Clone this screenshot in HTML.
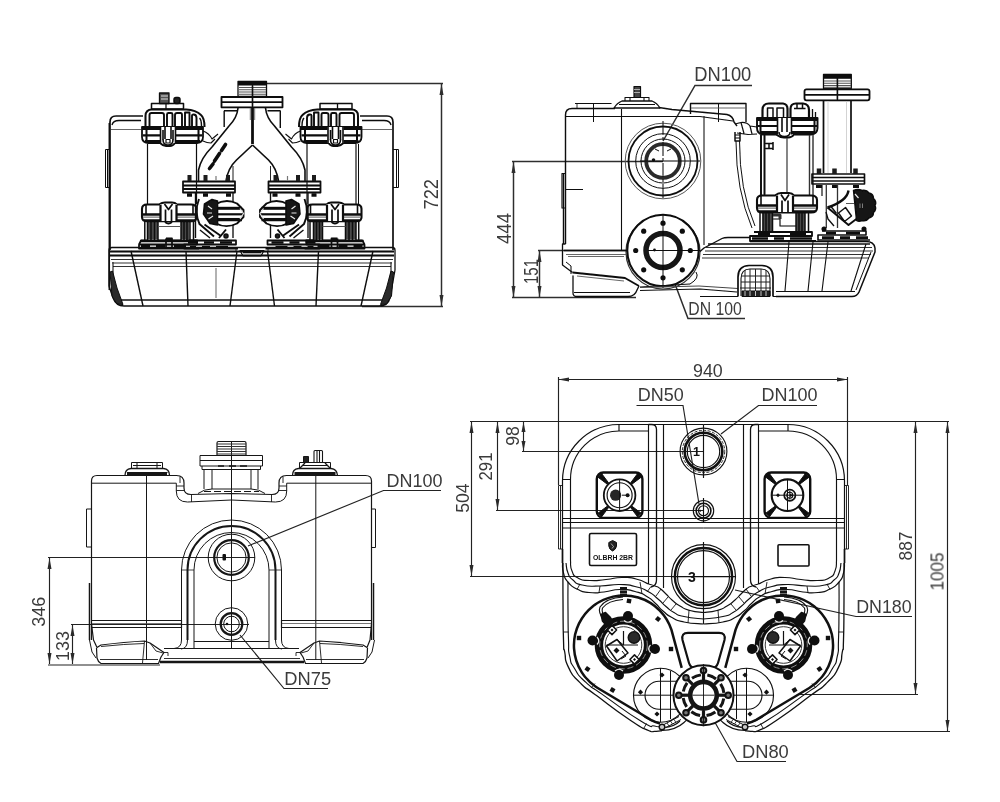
<!DOCTYPE html>
<html><head><meta charset="utf-8"><title>Dimension drawing</title>
<style>
html,body{margin:0;padding:0;background:#fff;}
body{width:1000px;height:802px;overflow:hidden;font-family:"Liberation Sans",sans-serif;}
svg{display:block}
.l{stroke:#1c1c1c;stroke-width:1;fill:none}
.t{stroke:#1c1c1c;stroke-width:1;fill:none}
text{font-family:"Liberation Sans",sans-serif;fill:#3a3a3a}
</style></head><body>
<svg width="1000" height="802" viewBox="0 0 1000 802">
<defs>
<filter id="soft" x="-5%" y="-5%" width="110%" height="110%"><feGaussianBlur stdDeviation="0.55"/></filter>
<filter id="tsoft" x="-5%" y="-5%" width="110%" height="110%"><feGaussianBlur stdDeviation="0.3"/></filter>
</defs>
<rect x="0" y="0" width="1000" height="802" fill="#ffffff"/>
<!-- dims -->
<g id="dimsAB" stroke="#2e2e2e" stroke-width="1.500" fill="none" filter="url(#soft)">
<!-- View A : 722 -->
<path d="M266 83.5H443"/>
<path d="M362 306.5H443"/>
<path d="M441.5 84V306"/>
<path d="M441.5 84l-2 11h4zM441.5 306l-2-11h4z" fill="#2e2e2e" stroke="none"/>
<!-- View B : 444 / 151 -->
<path d="M512 161.5H663"/>
<path d="M512 297.5H636"/>
<path d="M513.5 162V297"/>
<path d="M513.5 162l-2 11h4zM513.5 297l-2-11h4z" fill="#2e2e2e" stroke="none"/>
<path d="M538 250.5H663"/>
<path d="M539.5 251V297"/>
<path d="M539.5 251l-2 11h4zM539.5 297l-2-11h4z" fill="#2e2e2e" stroke="none"/>
<path d="M752 85.5H695L663 141"/>
<path d="M745 318.5H688L669 268"/>
</g>
<g id="dims" stroke="#222" stroke-width="1.150" fill="none">
<!-- View C : 346 / 133 -->
<path d="M48 557.5H255"/>
<path d="M48 665H160"/>
<path d="M49.5 558V664"/>
<path d="M49.5 558l-2 11h4zM49.5 664l-2-11h4z" fill="#2a2a2a" stroke="none"/>
<path d="M71 624.5H249"/>
<path d="M72.5 625V664"/>
<path d="M72.5 625l-2 11h4zM72.5 664l-2-11h4z" fill="#2a2a2a" stroke="none"/>
<!-- View D : 940 -->
<path d="M558 379.5H848"/>
<path d="M558.5 377V485"/>
<path d="M847.5 377V485"/>
<path d="M558 379.5l11-2v4zM848 379.5l-11-2v4z" fill="#2a2a2a" stroke="none"/>
<!-- top ref line -->
<path d="M470 421.5H949"/>
<!-- 504 -->
<path d="M471.5 422V576"/>
<path d="M471.5 422l-2 11h4zM471.5 576l-2-11h4z" fill="#2a2a2a" stroke="none"/>
<path d="M470 576.5H704"/>
<!-- 291 -->
<path d="M497.5 422V510"/>
<path d="M497.5 422l-2 11h4zM497.5 510l-2-11h4z" fill="#2a2a2a" stroke="none"/>
<path d="M496 510.5H704"/>
<!-- 98 -->
<path d="M523.5 422V451"/>
<path d="M523.5 422l-2 10h4zM523.5 451l-2-10h4z" fill="#2a2a2a" stroke="none"/>
<path d="M522 451.5H704"/>
<!-- 887 -->
<path d="M915.5 422V694"/>
<path d="M915.5 422l-2 11h4zM915.5 694l-2-11h4z" fill="#2a2a2a" stroke="none"/>
<path d="M799 694.5H918"/>
<!-- 1005 -->
<path d="M947.5 422V731"/>
<path d="M947.5 422l-2 11h4zM947.5 731l-2-11h4z" fill="#2a2a2a" stroke="none"/>
<path d="M752 731.5H950"/>
<!-- leaders -->
<path d="M441 490.5H383.500L248 546"/>
<path d="M328 688.5H284L240 635"/>
<path d="M636.500 405.5H683L699 504"/>
<path d="M817 405.5H758.500L721 434"/>
<path d="M912 616.5H856L735 590"/>
<path d="M786 761.5H737L708 710"/>
</g>
<g id="labels" font-size="17.8" filter="url(#tsoft)">
<text x="694.3" y="81" font-size="19.5" textLength="57" lengthAdjust="spacingAndGlyphs">DN100</text>
<text x="688.3" y="315" font-size="19" textLength="53.5" lengthAdjust="spacingAndGlyphs">DN 100</text>
<text x="386.5" y="487.2" textLength="56" lengthAdjust="spacingAndGlyphs">DN100</text>
<text x="284.3" y="684.5" textLength="46.8" lengthAdjust="spacingAndGlyphs">DN75</text>
<text x="637.7" y="400.5" textLength="46" lengthAdjust="spacingAndGlyphs">DN50</text>
<text x="761.5" y="400.5" textLength="56" lengthAdjust="spacingAndGlyphs">DN100</text>
<text x="856.2" y="613" textLength="55.5" lengthAdjust="spacingAndGlyphs">DN180</text>
<text x="742" y="758" textLength="46.8" lengthAdjust="spacingAndGlyphs">DN80</text>
<text x="693" y="376.5" textLength="29.800" lengthAdjust="spacingAndGlyphs">940</text>
<text transform="translate(438,209.5) rotate(-90)" font-size="21" textLength="30.5" lengthAdjust="spacingAndGlyphs">722</text>
<text transform="translate(511,244) rotate(-90)" font-size="20" textLength="31" lengthAdjust="spacingAndGlyphs">444</text>
<text transform="translate(538,284) rotate(-90)" font-size="20" textLength="25" lengthAdjust="spacingAndGlyphs">151</text>
<text transform="translate(45.3,626.8) rotate(-90)" font-size="18.6" textLength="30" lengthAdjust="spacingAndGlyphs">346</text>
<text transform="translate(69.3,661) rotate(-90)" font-size="18.6" textLength="30" lengthAdjust="spacingAndGlyphs">133</text>
<text transform="translate(469.3,512.8) rotate(-90)" font-size="18.6" textLength="29.5" lengthAdjust="spacingAndGlyphs">504</text>
<text transform="translate(492,480.5) rotate(-90)" font-size="18.6" textLength="28" lengthAdjust="spacingAndGlyphs">291</text>
<text transform="translate(519.3,445.7) rotate(-90)" font-size="18.6" textLength="19.5" lengthAdjust="spacingAndGlyphs">98</text>
<text transform="translate(911.5,560.5) rotate(-90)" font-size="18.6" textLength="29" lengthAdjust="spacingAndGlyphs">887</text>
<text transform="translate(943.5,590.5) rotate(-90)" font-size="18.6" textLength="38" lengthAdjust="spacingAndGlyphs">1005</text>
</g>

<!-- viewA -->
<g id="viewA" filter="url(#soft)" stroke="#0d0d0d" stroke-width="1.500" fill="none" stroke-linejoin="round">
<defs>
<g id="motorTopA">
  <!-- cap top plate -->
  <rect x="151.500" y="103.500" width="32" height="5.500" stroke-width="1.500"/>
  <path d="M166 103.500V109" stroke-width="1.300"/>
  <!-- upper body -->
  <path d="M145.500 127V116Q145.500 109.500 152 109.500H186Q196 110 201 115Q204.500 118 204.500 127" stroke-width="2"/>
  <path d="M149.500 126V115Q149.500 113 151.500 113H162Q164 113 164 115V126M167 126V114.500Q167 113 168.500 113H171Q172.500 113 172.500 114.500V126M175 126V115Q175 113 177 113H180.500Q182 113 182 115V126M185 126V112.500H189.500V126M192 126V115.500Q192 114.500 193.500 114.500Q196.500 114.500 196.500 118V126" stroke-width="1.900"/>
  <path d="M199.500 118Q201.500 120 201.500 126" stroke-width="1.400"/>
  <!-- dark band -->
  <path d="M142 127V137Q142 142.500 148 143H160Q163 146 166 146H170Q173 146 175 143H197Q203 142.500 203 137V127Z" stroke-width="1.800" fill="#fff"/>
  <path d="M142 128.300H203" stroke-width="3.400"/>
  <path d="M143 135.400H202" stroke-width="2.100"/>
  <path d="M145 141.500H200" stroke-width="2.800"/>
  <path d="M146.500 127V142M198.500 127V142" stroke-width="2"/>
  <rect x="160" y="127" width="16" height="16" fill="#fff" stroke="none"/>
  <path d="M160.500 127V143M175.500 127V143M165 127V139M171 127V139M163 130V140M173 130V140" stroke-width="1.600"/>
  <path d="M163 139.500Q163 145 168 145Q173 145 173 139.500" stroke-width="1.600"/>
  <rect x="166" y="139.500" width="4" height="3.500" fill="#fff" stroke-width="1.200"/>
</g>
<g id="motorLowA">
  <!-- legs -->
  <rect x="147.500" y="221" width="10.500" height="18" fill="#4a4a4a" stroke="none"/>
  <rect x="181" y="221" width="8.500" height="18" fill="#4a4a4a" stroke="none"/>
  <path d="M144.800 221V240.500M147.500 221V240.500M151 221V240.500M154.500 221V240.500M158 221V240.500" stroke-width="1.500"/>
  <path d="M181 221V240.500M184 221V240.500M187 221V240.500M190 221V240.500M193.500 221V240.500" stroke-width="1.500"/>
  <path d="M158 226.500H181" stroke-width="1" stroke="#555"/>
  <!-- lower band -->
  <path d="M142 212V209Q142 204.500 147 204.500H159Q162 202.500 165 202.500H172Q175 202.500 177 204.500H191Q196.500 204.500 196.500 209V217Q196.500 221.300 192 221.300H147Q142 221.300 142 217Z" stroke-width="2.100" fill="#fff"/>
  <path d="M142.500 214.600H196" stroke-width="2.500"/>
  <path d="M143 217.200H196" stroke-width="1.300" stroke="#777"/>
  <path d="M144 220.300H195" stroke-width="2"/>
  <path d="M146 205V214M193 205V214" stroke-width="1.600"/>
  <rect x="160" y="204" width="17" height="17" fill="#fff" stroke="none"/>
  <path d="M160.500 204.500V221M176.500 204.500V221" stroke-width="2.200"/>
  <path d="M164.500 204L168.500 209.500L172.500 204M165.500 209.500V221M171.500 209.500V221" stroke-width="1.700"/>
  <path d="M165 222Q168.500 225 172 222" stroke-width="1.700"/>
  <!-- foot plates -->
  <path transform="translate(0,2.500)" d="M141 238H197V242H139V246H199M141 238L139 242M166 236H172V246M166 236V246" stroke-width="1.76"/>
  <path transform="translate(0,2.500)" d="M141 244H150M156 244H165M174 244H186" stroke-width="2.97"/>
  <path d="M140 241H198" stroke-width="2.600"/>
</g>
</defs>
<!-- tank outline -->
<path d="M110 250V122Q110 116 116 116H143" stroke-width="1.700"/>
<path d="M112 125Q113 120.500 119 120.500H141" stroke-width="1.300"/>
<path d="M111 129.500H141" stroke="#666" stroke-width="1"/>
<path d="M393 250V122Q393 116 387 116H360" stroke-width="1.700"/>
<path d="M391 125Q390 120.500 384 120.500H362" stroke-width="1.300"/>
<path d="M392 129.500H362" stroke="#666" stroke-width="1"/>
<!-- side lugs -->
<path d="M110 149.500H105.500V187.500H110M107.500 150V187" stroke-width="1"/>
<path d="M393 149.500H398.500V187.500H393M396.500 150V187" stroke-width="1"/>
<!-- motor cylinders -->
<path d="M147.500 144V204M196.500 144V204" stroke-width="1.2"/>
<path d="M356 144V204M307 144V204" stroke-width="1.2"/>
<path d="M358.500 144V240" stroke-width="1"/>
<!-- motors -->
<use href="#motorTopA"/>
<rect x="159.500" y="93" width="9.500" height="10.500" fill="#555" stroke-width="1.3"/>
<path d="M161 96H168M161 99H168" stroke="#fff" stroke-width=".8"/>
<rect x="174" y="97.500" width="6" height="6" rx="2" fill="#222"/>
<use href="#motorTopA" transform="translate(503.500,0) scale(-1,1)"/>
<use href="#motorLowA"/>
<use href="#motorLowA" transform="translate(503.500,0) scale(-1,1)"/>
<!-- connecting hoses cap->pipe -->
<path d="M203 131Q209 133 212 139L218 134M203 141Q207 143 211 143L215 139" stroke-width="1.1"/>
<path d="M300.500 131Q294.500 133 291.500 139L285.500 134M300.500 141Q296.500 143 292.500 143L288.500 139" stroke-width="1.1"/>
<!-- central pipe thread -->
<rect x="238" y="81.500" width="28.500" height="15" stroke-width="1.300"/><path d="M238 83.500H266.500" stroke-width="4"/>
<path d="M239 87.500H266M239 89.800H266M239 92H266M239 94.300H266" stroke="#555" stroke-width="1.100"/>
<path d="M252.500 82V97" stroke-width="1.600"/>
<!-- top flange -->
<path d="M221.500 97H282.500V107.300H221.500ZM221.500 102.200H282.500" stroke-width="1.800"/><path d="M252.500 97V107" stroke-width="1.600"/>
<!-- Y pipe -->
<path d="M224 110.700H237M224.200 110.700V127M267.500 110.700H280.500M280.300 110.700V128" stroke-width="1.400"/>
<path d="M238 108Q237 118 229 126L212 147Q201 158 198.500 170V181" stroke-width="1.600"/>
<path d="M265.500 108Q266.500 118 274.500 126L291.500 147Q302.500 158 305 170V181" stroke-width="1.600"/>
<path d="M252.500 145L236.500 160Q228 168 226 181" stroke-width="1.700"/>
<path d="M252.500 145L268.500 160Q276.500 168 278.500 181" stroke-width="1.700"/>
<path d="M252.500 108V144" stroke-width="2.800"/><path d="M250.300 108V120M254.700 108V120" stroke-width=".8" stroke="#555"/>
<path d="M233 166V181M270.500 166V181" stroke-width=".9"/>
<path d="M225.500 144.500L221.500 150.500M219.500 153.500L214.500 161M213 164L209.500 168.500" stroke="#0a0a0a" stroke-width="3.600" stroke-linecap="round"/>
<!-- lower flanges -->
<g id="flA">
<path d="M183 181.500H235V192.500H183ZM183 185.500H235M183 189H235" stroke-width="1.76"/>
<path d="M189.500 175V181M205.500 175V181M228 175V181" stroke-width="4" stroke="#1a1a1a"/><path d="M216 176V181" stroke="#777" stroke-width="1.200"/>
<path d="M187 195H192M203 195H208M226 195H231" stroke-width="3.38"/>
<path d="M195.500 193V238M233 193V238" stroke-width="1.35"/>
<!-- ball valve -->
<path d="M215 204.500Q226 198 237 203.500L243.500 210V217L237 223.500Q226 229 215 223Z" stroke-width="1.900" fill="#fff"/>
<path d="M217 208.300H242" stroke-width="3"/>
<path d="M216 214.300H243.500" stroke-width="2.200"/>
<path d="M217 219.600H242" stroke-width="3.300"/>
<path d="M240 208.500L243.500 213.500L240 219" stroke-width="1.200" stroke="#ddd"/>
<path d="M204.500 204L212 199.500L217.500 201V225L210 223.500L203.500 214Z" fill="#171717" stroke-width="1.600"/>
<path d="M208 206L212 209M207 213H212M208.500 219L213 216" stroke="#e8e8e8" stroke-width="1.200"/>
<path d="M199 199Q194 212 199.500 224L214 236.500M204.500 224.500L221 236M226 229.500L219 238" stroke-width="1.900"/>
<path d="M200 230L210 238" stroke-width="1.500"/>
<path transform="translate(0,2.500)" d="M186 238H236V242H184V246H238" stroke-width="1.76"/>
<path transform="translate(0,2.500)" d="M188 240H198M204 240H214M220 240H232M190 244.500H196M202 244.500H210M216 244.500H228" stroke-width="2.70"/>
<circle cx="226" cy="236" r="2" fill="#222"/>
</g>
<use href="#flA" transform="translate(503.500,0) scale(-1,1)"/>
<!-- base -->
<path d="M109 262V250Q109 247.500 112 247.500H392Q395 247.500 395 250V270L390 298Q388 306 379 306H124Q116 306 113 298L109 286Z" stroke-width="1.3"/>
<path d="M110 251.500H394M110 255.500H394" stroke-width="1.800"/>
<path d="M111 259.500H393M112 263H392M113 266.500H391" stroke="#333" stroke-width="1.100"/>
<path d="M121 300H383" stroke-width="1.300"/>
<path d="M113 262V284L118 300" stroke-width="1"/>
<path d="M391 262V272L386 300" stroke-width="1"/>
<path d="M131 251L143 306M186 251L188 306M237 251L230 306M267.500 251L274.500 306M318.500 251L316 306M373 251L361 306" stroke-width="1.400"/>
<path d="M110 272L112.500 271L117 288L123 304.500L117 304L112 296Z" fill="#2a2a2a" stroke-width="1"/>
<path d="M393.500 272L391 271L386.500 288L380.500 304.500L386.500 304L391.500 296Z" fill="#2a2a2a" stroke-width="1"/>
<path d="M109.300 123V290" stroke-width="1.500"/>
<path d="M216 268V298" stroke-width=".9" stroke="#555"/>
<path d="M240 250.500H264L261 256H243Z" stroke-width="1.2"/>
<path d="M243 252.500H261" stroke-width="1.600"/>
<path d="M236 247.500V251M268 247.500V251" stroke-width="1"/>
</g>

<!-- viewB -->
<g id="viewB" filter="url(#soft)" stroke="#0d0d0d" stroke-width="1.450" fill="none" stroke-linejoin="round">
<!-- tank body -->
<path d="M565.500 244V115Q565.500 108.500 572 108.500H611" stroke-width="1.4"/>
<path d="M575 103.500H611.500" stroke-width="1.2"/>
<path d="M577 103.500V108" stroke-width=".8"/>
<path d="M566 116.500H700L733 121" stroke-width="1.1"/>
<path d="M611 108.500H615M659 107.500L672 109.500L727 114.500Q733 116 734 122L737 126" stroke-width="1.4"/>
<path d="M593.500 104V122" stroke-width="1"/>
<path d="M621.500 109V250" stroke-width="1.1"/>
<path d="M704 116V245" stroke-width="1"/>

<!-- left lug -->
<path d="M565.500 173.500H562V208H565.500" stroke-width="1.2"/>
<path d="M563.500 174V244" stroke-width="1.400"/>
<path d="M566 189.500H583" stroke-width="1"/>
<!-- top cap -->
<path d="M614 108Q617 103 622 101H652Q657 103 660 108Z" stroke-width="1.3"/>
<path d="M619 104.500H655M625 101V97.500H649V101M630 97.500V101M644 97.500V101" stroke-width="1.1"/>
<rect x="634" y="86.500" width="6.500" height="11" fill="#444" stroke-width="1.2"/>
<path d="M634 89.500H640M634 92.500H640" stroke="#ddd" stroke-width=".7"/>
<!-- hump box -->
<path d="M690.500 114V103.500H746V122" stroke-width="1.4"/>
<path d="M718.500 103.500V122" stroke-width="1"/>
<path d="M691 108H746" stroke-width=".9" stroke="#555"/>
<!-- big upper port -->
<circle cx="663" cy="161" r="37.8" stroke="#555" stroke-width="1"/>
<circle cx="663" cy="161" r="34.5" stroke-width="1.8"/>
<circle cx="663" cy="161" r="27.3" stroke-width="1"/>
<circle cx="663" cy="161" r="22" stroke-width="1"/>
<circle cx="663" cy="161" r="16.800" stroke="#2a2a2a" stroke-width="3.800"/>
<path d="M663 121V199" stroke-width="1" stroke-dasharray="14 2 3 2"/>
<path d="M640 161H700" stroke-width="1"/>
<circle cx="653.500" cy="160" r="1.800" fill="#111" stroke="none"/>
<path d="M655 149L659 151M671 149L667 151" stroke-width="1"/>
<!-- lower flange -->
<circle cx="663" cy="252" r="37" stroke="#333" stroke-width="1.2"/>
<circle cx="663" cy="250.500" r="35.700" stroke-width="2" fill="#fff"/>
<circle cx="663" cy="250.500" r="17" stroke="#151515" stroke-width="5.500"/>
<g fill="#111" stroke="none">
<circle cx="663" cy="223.200" r="2.600"/><circle cx="663" cy="277.800" r="2.600"/>
<circle cx="635.700" cy="250.500" r="2.600"/><circle cx="690.300" cy="250.500" r="2.600"/>
<circle cx="643.700" cy="231.200" r="2.600"/><circle cx="682.300" cy="231.200" r="2.600"/>
<circle cx="643.700" cy="269.800" r="2.600"/><circle cx="682.300" cy="269.800" r="2.600"/>
<circle cx="654.500" cy="250" r="1.400"/>
</g>
<path d="M663 214V288M648 250.500H700" stroke-width="1" />
<!-- tank bottom / left lower -->
<path d="M565.500 244H562.500V265L572.500 272.500" stroke-width="1.3"/>
<path d="M564 250.500H627" stroke-width="1.4"/>
<path d="M566 254.500H626M568 256.500H624" stroke="#555" stroke-width=".9"/>
<path d="M566 262L571 266V274" stroke-width="1"/>
<path d="M572.500 272.500L625 278L639 286" stroke-width="1.800"/>
<path d="M573 275.500V293Q573 296.500 577 296.500H628Q635 296.500 637 290L639 286" stroke-width="1.3"/>
<path d="M574 292.500H630" stroke-width="1"/>
<path d="M577 276L624 281" stroke-width=".9" stroke="#555"/>
<!-- cable -->
<path d="M736 141Q736 190 752 228M739.500 141Q739.500 190 755 226" stroke-width="1"/>
<path d="M735 132V141H740V132" stroke-width="1.5"/>
<path d="M735 135H740M735 138H740" stroke-width="1"/>
<!-- hose fitting to motor -->
<path d="M735 124L741 122.500Q747 122 750 126L757 127M737 133L748 134.500L757 134M741 122.500L744 133.500M750 126L752 134" stroke-width="1.2"/>
<!-- motor top cap -->
<path d="M757 118V128Q757 134 763 134.500H776Q780 137.500 784 137.500H788Q792 137.500 794 134.500H811Q817.500 134 817.500 128V118Z" stroke-width="1.900" fill="#fff"/>
<path d="M757 119.500H817.500" stroke-width="3.200"/>
<path d="M758 126H817" stroke-width="2.100"/>
<path d="M760 132.500H815" stroke-width="2.800"/>
<path d="M760.500 118V134M814.500 118V134" stroke-width="2"/>
<rect x="777" y="118" width="15" height="16" fill="#fff" stroke="none"/>
<path d="M777.500 118V134.500M791.500 118V134.500M782 118V132M787 118V132" stroke-width="1.600"/>
<path d="M779 132Q779 136.500 784.500 136.500Q790 136.500 790 132" stroke-width="1.500"/>
<path d="M762.500 118V110Q762.500 103.500 769 103.500H783Q787.500 104 787.500 109V118M790.500 118V109Q790.500 103.500 796 103.500H803Q809 104 809 110V118" stroke-width="2.200"/>
<path d="M767.500 118V108H773V118M777 118V108H783.500V118M794 108.500H805.500M797 104V108M802.500 104V108" stroke-width="1.500"/>
<path d="M812.500 109V118M815.500 112V118" stroke-width="1.300"/>
<!-- motor cylinder -->
<path d="M761 135V195M764.500 135V195" stroke-width="1.95"/>
<path d="M787 138V195" stroke="#444" stroke-width="1.30"/>
<path d="M809.500 135V195M813 135V195" stroke="#333" stroke-width="1.43"/>
<path d="M765 143.500H773M765 148.500H773M769 143.500V148.500M773 142V150" stroke-width="1.56"/>
<!-- motor lower band -->
<rect x="762.500" y="212" width="10" height="19.500" fill="#4a4a4a" stroke="none"/>
<rect x="796" y="212" width="9" height="19.500" fill="#4a4a4a" stroke="none"/>
<path d="M760 212V231.500M763 212V231.500M766 212V231.500M769 212V231.500M772.500 212V231.500" stroke-width="1.500"/>
<path d="M796 212V231.500M799 212V231.500M802 212V231.500M805 212V231.500M808.500 212V231.500" stroke-width="1.500"/>
<path d="M773 219H780V226H796" stroke-width="1.200"/>
<path d="M773 215H780V219" stroke-width="3" stroke="#333"/>
<path d="M757 203V200Q757 195.500 762 195.500H775Q778 193 781 193H789Q792 193 794 195.500H811Q817 195.500 817 200V208Q817 212.500 811 212.500H762Q757 212.500 757 208Z" stroke-width="2.100" fill="#fff"/>
<path d="M757.500 205.500H816.500" stroke-width="2.500"/>
<path d="M758 208.200H816" stroke-width="1.300" stroke="#777"/>
<path d="M759 211.300H815" stroke-width="2"/>
<path d="M761 196V205M813 196V205" stroke-width="1.600"/>
<rect x="776.500" y="195" width="17" height="17" fill="#fff" stroke="none"/>
<path d="M777 195.500V212M793 195.500V212" stroke-width="2.200"/>
<path d="M781 194.500L785 200.500L789 194.500M782 200.500V212M788 200.500V212" stroke-width="1.700"/>
<!-- motor base plates -->
<path d="M754 232H812V236H750V241H816" stroke-width="1.82"/>
<path d="M752 238.500H768M774 238.500H784M790 238.500H812M758 234H770M790 234H806" stroke-width="2.300"/>
<!-- discharge pipe -->
<rect x="823.500" y="74.500" width="27.800" height="14" stroke-width="1.300"/>
<path d="M823.500 76.700H851.300" stroke-width="4.200"/>
<path d="M824 81H851M824 83.300H851M824 85.600H851M824 87.800H851" stroke="#555" stroke-width="1.100"/>
<path d="M837.400 75V100" stroke-width="1.600"/>
<path d="M806.500 89.300H867.500Q869.500 89.300 869.500 91.300V98.300Q869.500 100.300 867.500 100.300H806.500Q804.500 100.300 804.500 98.300V91.300Q804.500 89.300 806.500 89.300ZM805 94.800H869" stroke-width="1.800"/>
<path d="M823.500 101V173M851 101V173" stroke-width="1.700"/>
<path d="M828 101V173M846.500 101V173" stroke="#c8c8c8" stroke-width=".8"/>
<!-- lower pipe flange -->
<path d="M812 174H864.500V184H812ZM812 177.500H864M812 181H864" stroke-width="1.62"/>
<path d="M819 168.500V174M834.500 168.500V174M855.500 168.500V174" stroke-width="4.50" stroke="#1a1a1a"/>
<path d="M816 186.500H822M832 186.500H838M853 186.500H859" stroke-width="3.12"/>
<!-- check valve body -->
<path d="M826.300 185V228M837.500 185V228" stroke="#333" stroke-width="1.300"/>
<path d="M822 185V196" stroke-width="1.200"/>
<path d="M848.500 190.500Q847 201 827.500 207.500" stroke-width="2.400"/>
<path d="M827.500 207.500L848.500 225L857 218.500" stroke-width="1.900"/>
<path d="M826 212L828 219L834 226" stroke-width="1.300"/>
<path d="M831 206.500L836.500 213.500M838.500 213L845.500 207.500L851.500 216L844.500 221.500Z" stroke-width="1.400"/>
<path d="M846 203.500H854" stroke-width="1" stroke="#555"/>
<!-- knob -->
<path d="M853.500 190.500Q858 188.500 862 190.500Q866.500 189.500 869 193Q873.500 194 873.500 198.500Q877 201.500 875 205.500Q877 209.500 873.500 212.500Q873.500 217 869 218Q866.500 221.500 862 220.500Q859 222 856.500 220.500Z" fill="#141414" stroke-width="1.400"/>
<path d="M860 203.500V208M862.500 203.500V208" stroke="#888" stroke-width=".9"/>
<path d="M855 194L858.500 198" stroke="#eee" stroke-width="1.200"/>
<!-- valve base plate -->
<path d="M822 231H866V235H818V240H870" stroke-width="1.62"/>
<path d="M822 237.500H834M840 237.500H850M856 237.500H868M826 233H836M846 233H860" stroke-width="2.75"/>
<circle cx="824" cy="229" r="1.800" fill="#111"/><circle cx="864" cy="229" r="1.800" fill="#111"/>
<!-- base -->
<path d="M700 251.500L704 248L722 238.500Q724 237.500 728 237.500H750" stroke-width="1.400"/>
<path d="M750 241.500H866Q874 241.500 875 248V252L859 292Q857 296.500 852 296.500H776" stroke-width="1.500"/>
<path d="M706 247.500H872M705 251H873M703 254.500H871M702 258H869" stroke-width="1.100" stroke="#333"/>
<path d="M708 244H870" stroke-width="1.500"/>
<path d="M871 252L856 290" stroke-width="1"/>
<path d="M789 242L785 291M813 242L808 291M828 242L822 291M866 244L851 291" stroke-width="1.100"/>
<path d="M776 291.500H855" stroke-width="1"/>
<path d="M696 272Q700 278 690 284L640 287" stroke-width="1"/>
<path d="M640 290.500L700 289L737 292" stroke-width="1.200"/>
<path d="M640 287.500L699 286L738 288.500" stroke-width="1" stroke="#444"/>
<!-- foot -->
<path d="M738 296.500V277Q738 266 749 265.500H762Q773 266 773 277V296.500" stroke-width="1.700"/>
<path d="M741 296V279Q741 269 750 269H761Q770 269 770 279V296" stroke-width="1.100"/>
<path d="M745 270V296M750 269V296M755.500 269V296M761 269V296M766 270V296M741 276H770M741 282H770M740 288H771" stroke-width="1" stroke="#222"/>
<path d="M742 291H770V296.500H742Z" fill="#222" stroke-width="1"/>
<path d="M745 291V296M750 291V296M755.500 291V296M761 291V296M766 291V296" stroke="#eee" stroke-width=".8"/>
<path d="M700 296.500H738M773 296.500H790" stroke-width="1.200"/>
</g>

<!-- viewC -->
<g id="viewC" stroke="#161616" stroke-width="1" fill="none" stroke-linejoin="round">
<!-- tank outline -->
<path d="M91.500 640V481Q91.500 475.500 97 475.500H176.500Q184 475.500 184 483V488Q184 494.500 191 494.500L231.500 493.500L272 494.500Q279 494.500 279 488V483Q279 475.500 286.500 475.500H365.500Q371.500 475.500 371.500 481V640" stroke-width="1.200"/>
<path d="M92 483.200H176.300V491Q176.300 502 187.500 502L231.500 500L275.500 502Q286.700 502 286.700 491V483.200H371" />
<path d="M146.500 476V660M315.800 476V660M231.500 441V649" />
<path d="M176.300 486H184M176.300 490.500H184M191.500 494.500V502M286.700 486H279M286.700 490.500H279M271.500 494.500V502M180 476.500V483M283 476.500V483" stroke-width=".9"/>
<!-- side lugs -->
<path d="M91.500 509H86.500V547H91.500M371.500 509H375.500V547.500H371.500" />
<path d="M89.500 583V640M373.500 583V640" stroke-width="1.500"/>
<!-- left cap -->
<path d="M125 475.500Q125 469 131 468.500H163.500Q169.500 469 169.500 475.500" stroke-width="1.300"/>
<path d="M127 472.500H167.500M131.500 468.500V462.500H162.500V468.500M137 462.500V468.500M157 462.500V468.500M133 465.500H161" />
<path d="M127 474H167" stroke-width="1.800"/>
<!-- right cap -->
<path d="M292.500 475.500Q292.500 469 298.500 468.500H331Q337 469 337.500 475.500" stroke-width="1.300"/>
<path d="M294.500 472.500H335.500M299.500 468.500V462.500H330.500V468.500M303 465.500H328" />
<path d="M294.500 474H335.500" stroke-width="1.800"/>
<path d="M303.500 462.500V456.500H308.500V462.500Z" fill="#222"/><path d="M314 462.500V451.500Q314 450.500 315 450.500H321.500Q322.500 450.500 322.500 451.500V462.500M317 451V462M319.500 451V462" stroke-width="1.100"/>
<path d="M299.500 468.500L305 463M330.500 468.500L325 463" stroke-width="1.400"/>
<!-- centre pipe -->
<path d="M217 455.500V443Q217 441.500 218.500 441.500H244.500Q246 441.500 246 443V455.500" stroke-width="1.200"/>
<path d="M217 444H246M217 446.500H246M217 449H246M217 451.500H246M217 454H246" stroke-width="1" stroke="#333"/>
<path d="M200 455.500H262.500V466H200ZM200 460.500H262.500M202 466V469.500H260.500V466" />
<path d="M204 469.500V489M258 469.500V489M212 469.500V489M251 469.500V489M204 469.500H258" />
<path d="M218 466H224M229 466H236M240 466H247" stroke-width="1.500"/>
<path d="M198 493.500Q204 489 212 489H251Q259 489 265 493.500" />
<path d="M204 491.500H259" stroke-dasharray="7 3" stroke-width="1.200"/>
<!-- arch -->
<path d="M181.500 640V570A50 50 0 0 1 281.500 570V640" />
<path d="M187.500 640V570A44 44 0 0 1 275.500 570V640" stroke-width="2"/>
<path d="M194 640V570A37.500 37.500 0 0 1 269 570V640" />
<path d="M181.500 570H194M269 570H281.500" stroke-width=".8"/>
<!-- upper port -->
<circle cx="231.500" cy="557.500" r="23.300"/>
<circle cx="231.500" cy="557.500" r="17.300" stroke-width="2.200"/>
<circle cx="231.500" cy="557.500" r="14.600"/>
<rect x="222.500" y="554" width="3.500" height="6.500" rx="1" fill="#111" stroke="none"/>
<!-- lower port -->
<circle cx="231.500" cy="624" r="16.300"/>
<circle cx="231.500" cy="624" r="10.800" stroke-width="2.200"/>
<circle cx="231.500" cy="624" r="7.800"/>
<circle cx="227" cy="624" r="1.300" fill="#111" stroke="none"/>
<!-- horizontal seams -->
<path d="M92 620.500H181.500M92 627.500H181.500M281.500 620.500H371M281.500 627.500H371" />
<path d="M92 623.500H181M282 623.500H371" stroke="#555" stroke-width=".8"/>
<path d="M181.500 620V628M281.500 620V628" stroke-width="1.200"/>
<!-- arch bottom flare -->
<path d="M181.500 640Q181.500 648 174 648.500M187.500 640Q187.500 648.500 181 649M194 640V648.500M281.500 640Q281.500 648 289 648.500M275.500 640Q275.500 648.500 282 649M269 640V648.500" />
<path d="M194 641.500H269M164 648.500H299" />
<!-- feet -->
<path d="M91.500 624L93.500 640L97 647.500L101 645Q125 642 144.500 641L150 643L164 652.500L161 657L158.500 663.500H101Q98 662 97 658L96.500 648" stroke-width="1.200"/>
<path d="M89.500 640L92 652L96 658" />
<path d="M101 646.500Q125 644 144 643.500M144.500 641L142.500 663M150 643L156 651L163 653M100 659.500H158" stroke-width=".9"/>
<path d="M371.500 624L370 640L367 647.500L363 645Q339 642 319.500 641L314 643L300 652.500L303 657L305.500 663.500H363Q366 662 367 658L367.500 648" stroke-width="1.200"/>
<path d="M374.500 640L372 652L368 658" />
<path d="M363 646.500Q339 644 320 643.500M319.500 641L321.500 663M314 643L308 651L301 653M364 659.500H306" stroke-width=".9"/>
<!-- bottom plate -->
<path d="M160 662H304" stroke-width="2.400"/>
<path d="M164 658.500H300" stroke-width=".9"/>
<path d="M164 652.500H168V656M300 652.500H296V656" stroke-width=".9"/>
</g>

<!-- viewD -->
<g id="viewD" stroke="#111" stroke-width="1.150" fill="none" stroke-linejoin="round" stroke-linecap="butt">
<g id="dL"><path d="M703.5 424.5H619A56.5 56.5 0 0 0 562.5 481V563" stroke-width="1.2"/>
<path d="M648.5 431H619A48.5 48.5 0 0 0 570.5 479.5V561"/>
<path d="M570.5 561.0C571.0 564.3 569.5 565.3 572.0 571.0C574.5 576.7 572.0 574.8 578.0 578.0C584.0 581.2 580.7 580.0 590.0 580.5C599.3 581.0 595.3 580.5 606.0 579.5C616.7 578.5 612.0 577.7 622.0 577.5C632.0 577.3 627.2 576.8 636.0 579.0C644.8 581.2 644.3 582.3 648.5 584.0"/>
<path d="M619 424.500V431M562.500 479.500H570.500"/>
<path d="M562.500 485.500H558.500V549H562.500M560.500 486V549" stroke-width=".9"/>
<path d="M562.500 549V563" stroke-width="1.600"/>
<path d="M648.500 424.500V584"/>
<path d="M648.500 424.500H651.500Q656.500 424.500 656.500 429.500V580Q656.500 586 651 587" stroke-width="1.300"/>
<path d="M663.500 424.500V588"/>
<path d="M562.500 518.500H703.500M562.500 522.500H703.500M562.500 528H703.500"/>
<path d="M562.5 563.0C562.8 566.3 561.7 566.7 563.5 573.0C565.3 579.3 563.5 576.7 568.0 582.0C572.5 587.3 570.0 585.5 577.0 589.0C584.0 592.5 580.0 591.5 589.0 592.5C598.0 593.5 593.7 593.0 604.0 592.0C614.3 591.0 609.7 589.7 620.0 589.5C630.3 589.3 626.3 589.3 635.0 591.5C643.7 593.7 639.3 592.2 646.0 596.0C652.7 599.8 649.3 598.0 655.0 603.0C660.7 608.0 657.3 606.2 663.0 611.0C668.7 615.8 665.0 613.8 672.0 617.5C679.0 621.2 673.5 619.8 684.0 622.0C694.5 624.2 697.0 623.3 703.5 624.0" stroke-width="1.200"/>
<path d="M566.0 563.0C566.7 566.3 565.7 567.3 568.0 573.0C570.3 578.7 568.3 576.0 573.0 580.0C577.7 584.0 573.0 583.0 582.0 585.0C591.0 587.0 587.3 586.2 600.0 586.0C612.7 585.8 608.3 584.3 620.0 584.5C631.7 584.7 625.7 584.2 635.0 586.5C644.3 588.8 640.3 587.3 648.0 591.5C655.7 595.7 652.0 594.0 658.0 599.0C664.0 604.0 660.7 602.0 666.0 606.5C671.3 611.0 668.0 609.2 674.0 612.5C680.0 615.8 674.2 614.3 684.0 616.5C693.8 618.7 697.0 618.2 703.5 619.0"/>
<path d="M648.5 584.0C650.7 584.7 651.2 584.5 655.0 586.0C658.8 587.5 656.3 585.8 660.0 588.5C663.7 591.2 662.0 590.2 666.0 594.0C670.0 597.8 667.3 596.0 672.0 600.0C676.7 604.0 674.0 602.5 680.0 606.0C686.0 609.5 682.2 608.3 690.0 610.5C697.8 612.7 699.0 611.8 703.5 612.5"/>
<path d="M580 584L577 589.5" stroke-width=".9"/>
<path d="M600 586L599 592.5" stroke-width=".9"/>
<path d="M640 582L642 594" stroke-width=".9"/>
<path d="M651 586.5L647 592" stroke-width=".9"/>
<path d="M661 589L656 596" stroke-width=".9"/>
<path d="M668 597L663 603" stroke-width=".9"/>
<path d="M676 604L671 610" stroke-width=".9"/>
<path d="M689 610.5L688 623" stroke-width=".9"/>
<path d="M563.0 563.0C563.0 575.3 562.8 574.3 563.0 600.0C563.2 625.7 562.9 622.5 563.5 640.0C564.1 657.5 563.1 643.4 564.8 652.5C566.5 661.6 563.5 657.4 568.5 667.4C573.5 677.4 570.1 672.8 579.7 682.4C589.3 692.0 580.6 683.6 597.2 696.1C613.8 708.6 613.0 708.6 629.6 719.8C646.2 731.0 638.5 726.0 647.0 729.8C655.5 733.6 650.0 731.1 655.0 731.3C660.0 731.5 659.7 730.8 662.0 730.5" stroke-width="1.300"/>
<path d="M568.0 582.0C568.0 591.3 567.8 590.7 568.0 610.0C568.2 629.3 567.9 624.6 568.5 640.0C569.1 655.4 567.6 646.6 569.7 656.2C571.8 665.8 569.3 660.0 574.7 668.7C580.1 677.4 576.0 673.3 586.0 682.4C596.0 691.5 586.4 683.2 604.7 696.1C623.0 709.0 624.2 711.0 640.8 721.0C657.4 731.0 648.1 724.2 654.5 726.0C660.9 727.8 658.2 726.3 660.0 726.5"/>
<path d="M662 730.500Q676 730 684 722.500Q687 720 688 718" stroke-width="1.200"/>
<path d="M664 727.500Q674 727 680 721"/>
<path d="M563.500 632H568.500M591 688L595 683.500M644 728L646.500 723.500" stroke-width=".9"/>
<path d="M681.700 667.800L671.400 629.700A50 50 0 1 0 597.700 688L650.800 719.800Q656 722.500 660 723.500" stroke-width="2.500"/>
<rect x="576.8" y="635.8" width="4.4" height="4.4" fill="#111" stroke="none" transform="rotate(0 579 638)"/>
<rect x="585.3" y="666.8" width="4.4" height="4.4" fill="#111" stroke="none" transform="rotate(35 587.5 669)"/>
<rect x="610.3" y="687.8" width="4.4" height="4.4" fill="#111" stroke="none" transform="rotate(30 612.5 690)"/>
<rect x="626.8" y="598.8" width="4.4" height="4.4" fill="#111" stroke="none" transform="rotate(10 629 601)"/>
<rect x="655.8" y="616.8" width="4.4" height="4.4" fill="#111" stroke="none" transform="rotate(40 658 619)"/>
<rect x="668.8" y="646.8" width="4.4" height="4.4" fill="#111" stroke="none" transform="rotate(0 671 649)"/>
<rect x="620" y="587" width="7" height="10" fill="#151515" stroke="none"/>
<path d="M620 590.500H627M620 593.500H627" stroke="#999" stroke-width=".7"/>
<path d="M623 597Q606 598 600 607Q598 612 603 619M623 599.500Q608 600.500 602.500 608Q601 612 605.500 618" stroke-width="1.100"/>
<circle cx="623.5" cy="645" r="24.600" stroke-width="8.400" stroke="#0e0e0e"/>
<circle cx="623.5" cy="645" r="23.800" stroke-width=".9" stroke="#9a9a9a" stroke-dasharray="6 3"/>
<circle cx="623.5" cy="645" r="18.300" stroke-width="1" stroke="#333"/>
<circle cx="628" cy="616" r="5" fill="#0e0e0e" stroke="none"/>
<circle cx="592.5" cy="640.5" r="5" fill="#0e0e0e" stroke="none"/>
<circle cx="655" cy="649" r="5" fill="#0e0e0e" stroke="none"/>
<circle cx="619" cy="675" r="5" fill="#0e0e0e" stroke="none"/>
<path d="M624 620.500Q628 624 632 620.500M650.500 645Q647 648.500 650.500 652.500M615 671Q619 667.500 623 671M597 637Q600.500 641 597 644.500" stroke="#eee" stroke-width="1.200"/>
<path d="M601 614.500L605.500 612.500L610 617L613.500 622.500L607.500 627L602.500 621Z" fill="#111" stroke-width="1.500"/>
<circle cx="634" cy="637.500" r="5.800" fill="#2a2a2a" stroke-width="1.400"/>
<path d="M623.500 631V645M606.500 645H638" stroke-width="1.200"/>
<path d="M612 625.4L616.6 630L612 634.6L607.4 630Z" stroke-width="1.500" fill="#fff"/>
<path d="M612 628.5L613.5 630L612 631.5L610.5 630Z" fill="#111" stroke="none"/>
<path d="M634.5 654.9L639.1 659.5L634.5 664.1L629.9 659.5Z" stroke-width="1.500" fill="#fff"/>
<path d="M634.5 658.0L636.0 659.5L634.5 661.0L633.0 659.5Z" fill="#111" stroke="none"/>
<path d="M606.500 646L617 639.500L628 653L617 661Z" stroke-width="1.500"/>
<path d="M616.500 647.500l3 3l-3 3l-3-3Z" fill="#111" stroke="none"/>
<path d="M617 639.500L623.500 645M622 651L626 656L621 659" stroke-width="1"/>
<circle cx="660.500" cy="695.200" r="27"/>
<path d="M680 681.200H659A14 14 0 0 0 659 709.200H680"/>
<path d="M633.500 695.200H680M660.500 668V722M670.500 671V719" stroke-width="1"/>
<path d="M662 672.4L664.6 675L662 677.6L659.4 675Z" fill="#111" stroke="none"/>
<path d="M640.5 689.6L643.1 692.2L640.5 694.8000000000001L637.9 692.2Z" fill="#111" stroke="none"/>
<path d="M657 711.4L659.6 714L657 716.6L654.4 714Z" fill="#111" stroke="none"/>
<circle cx="662" cy="727" r="2.800" stroke-width="1.400" fill="#ccc"/>
<path d="M664 724.500L679 716.500M666 727.500L681 719.500" stroke-width="1"/>
<path d="M667 723L669 726M670.500 721L672.500 724M674 719.500L676 722.500" stroke-width=".8"/>
<rect x="596.800" y="472.500" width="45.600" height="45.400" rx="6.500" stroke-width="2.400" stroke="#0e0e0e"/>
<path d="M601.6 473.6L608.6 482.9L607.3 484.2L598.0 477.2Z" fill="#0e0e0e" stroke="#0e0e0e" stroke-width="1"/>
<path d="M641.2 477.2L631.9 484.2L630.6 482.9L637.6 473.6Z" fill="#0e0e0e" stroke="#0e0e0e" stroke-width="1"/>
<path d="M598.0 513.2L607.3 506.2L608.6 507.5L601.6 516.8Z" fill="#0e0e0e" stroke="#0e0e0e" stroke-width="1"/>
<path d="M637.6 516.8L630.6 507.5L631.9 506.2L641.2 513.2Z" fill="#0e0e0e" stroke="#0e0e0e" stroke-width="1"/></g>
<use href="#dL" transform="translate(1407.0,0) scale(-1,1)"/>
<circle cx="619.600" cy="495.200" r="15.800" stroke-width="1.800"/>
<circle cx="619.600" cy="495.200" r="12.500"/>
<circle cx="615.600" cy="495.200" r="5.600" fill="#262626" stroke="none"/>
<circle cx="627.600" cy="495.200" r="2" fill="#111" stroke="none"/>
<path d="M619.600 479.500V511M622 495.200H626" stroke-width="1"/>
<circle cx="787.500" cy="495.200" r="15.800" stroke-width="2.100"/>
<circle cx="789.800" cy="495.200" r="5.600" stroke-width="1.700"/>
<circle cx="789.800" cy="495.200" r="3"/>
<path d="M787.500 479.500V511M771 495.200H804M789.800 491V499.500" stroke-width="1"/>
<path d="M778 493.200l2 2l-2 2l-2-2Z" fill="#111" stroke="none"/>
<path d="M790 493.500l3 1.700l-3 1.700Z" fill="#111" stroke="none"/>
<rect x="589.500" y="533.500" width="47" height="32" rx="1.500" stroke-width="1.600"/>
<path d="M612.600 540.500L616.500 542.500V546Q616 549.500 612.600 551Q609.200 549.500 608.800 546V542.500Z" fill="#222" stroke-width="1"/>
<path d="M611 543.500L613.500 546.500L612 548.500" stroke="#ddd" stroke-width=".7"/>
<text x="613" y="560.300" font-size="6.800" font-weight="bold" text-anchor="middle" style="fill:#111" stroke="none" textLength="40" lengthAdjust="spacingAndGlyphs">OLBRH 2BR</text>
<rect x="778" y="544.700" width="31" height="21.300" rx="1" stroke-width="1.600"/>
<circle cx="703.500" cy="451.500" r="23.400"/>
<circle cx="703.500" cy="451.500" r="21.200" stroke-dasharray="3 1.500" stroke-width=".9"/>
<circle cx="703.500" cy="451.500" r="18.800" stroke-width="2.600"/>
<circle cx="703.500" cy="451.500" r="16.200"/>
<path d="M703.500 424.500V478" />
<text x="693" y="456" font-size="12.500" font-weight="bold" style="fill:#111" stroke="none">1</text>
<circle cx="703.500" cy="510.700" r="10.200"/>
<circle cx="703.500" cy="510.700" r="7.400" stroke-width="1.600"/>
<circle cx="703.500" cy="510.700" r="5"/>
<path d="M703.500 498V523"/>
<circle cx="700.200" cy="510.700" r="1" fill="#111" stroke="none"/>
<circle cx="703.500" cy="576.600" r="32"/>
<circle cx="703.500" cy="576.600" r="28.600" stroke-width="2.400"/>
<circle cx="703.500" cy="576.600" r="26"/>
<path d="M703.500 542V624M672 576.600H736" />
<text x="688" y="581.500" font-size="14" font-weight="bold" style="fill:#111" stroke="none">3</text>
<path d="M688 632.800H719Q726 632.800 724.500 640L718 663Q716.500 668 711.500 668H695.500Q690.500 668 689 663L682.500 640Q681 632.800 688 632.800Z" stroke-width="2.200"/>
<circle cx="703.5" cy="695.2" r="30" stroke-width="2" fill="#fff"/>
<circle cx="703.5" cy="695.2" r="20.500" stroke-width="3" stroke-dasharray="9.500 6.600" stroke-dashoffset="-3.300" stroke="#151515"/>
<circle cx="703.5" cy="695.2" r="13.300" stroke-width="4.600" stroke="#151515"/>
<path d="M718.5 695.2L725.5 695.2" stroke-width="3.200" stroke="#151515"/>
<circle cx="728.2" cy="695.2" r="2.800" stroke-width="2" fill="#777" stroke="#111"/>
<path d="M714.1 705.8L719.1 710.8" stroke-width="3.200" stroke="#151515"/>
<circle cx="721.0" cy="712.7" r="2.800" stroke-width="2" fill="#777" stroke="#111"/>
<path d="M703.5 710.2L703.5 717.2" stroke-width="3.200" stroke="#151515"/>
<circle cx="703.5" cy="719.9" r="2.800" stroke-width="2" fill="#777" stroke="#111"/>
<path d="M692.9 705.8L687.9 710.8" stroke-width="3.200" stroke="#151515"/>
<circle cx="686.0" cy="712.7" r="2.800" stroke-width="2" fill="#777" stroke="#111"/>
<path d="M688.5 695.2L681.5 695.2" stroke-width="3.200" stroke="#151515"/>
<circle cx="678.8" cy="695.2" r="2.800" stroke-width="2" fill="#777" stroke="#111"/>
<path d="M692.9 684.6L687.9 679.6" stroke-width="3.200" stroke="#151515"/>
<circle cx="686.0" cy="677.7" r="2.800" stroke-width="2" fill="#777" stroke="#111"/>
<path d="M703.5 680.2L703.5 673.2" stroke-width="3.200" stroke="#151515"/>
<circle cx="703.5" cy="670.5" r="2.800" stroke-width="2" fill="#777" stroke="#111"/>
<path d="M714.1 684.6L719.1 679.6" stroke-width="3.200" stroke="#151515"/>
<circle cx="721.0" cy="677.7" r="2.800" stroke-width="2" fill="#777" stroke="#111"/>
<path d="M703.5 664.2V726.2M692.5 695.2H714.5" stroke-width=".9"/>
</g>
</svg>
</body></html>
